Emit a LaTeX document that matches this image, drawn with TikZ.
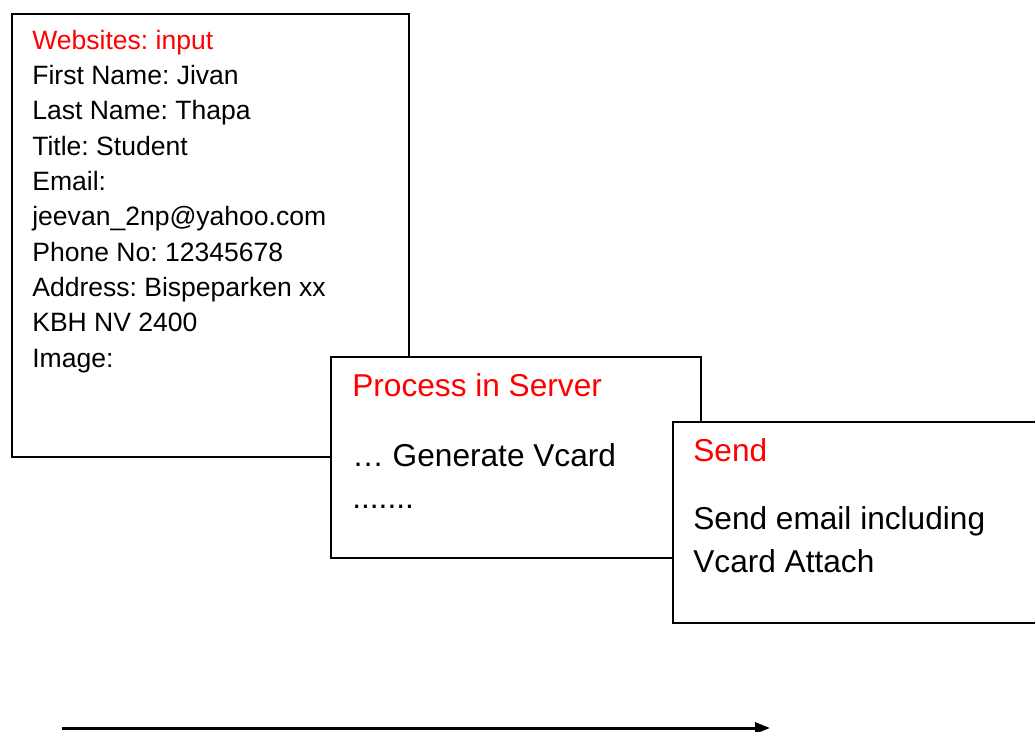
\documentclass[tikz,border=0pt]{standalone}
\usepackage{fontspec}
\setmainfont{Liberation Sans}
\frenchspacing
\usetikzlibrary{arrows.meta}
\begin{document}
\begin{tikzpicture}[x=0.02cm,y=-0.02cm]
    \tikzstyle{boite}=[draw,fill=white,line width=1.1pt,rectangle,inner sep=0pt,anchor=north west]
    \tikzstyle{titre}=[red,anchor=base west,inner sep=0pt]
    \tikzstyle{texte}=[anchor=base west,inner sep=0pt]
    \tikzstyle{fleche}=[line width=1.7pt,-{Triangle[length=0.3cm,width=0.22cm]}]
    \clip (0,0) rectangle (1035,731);
    % formulaire du site
    \node[boite,minimum width=7.94cm,minimum height=8.85cm] (site) at (11,13.3) {};
    \node[titre,font=\fontsize{15.1}{18}\selectfont] (site-titre) at (32,49.3) {Websites: input};
    \foreach \ligne [count=\i] in {First Name: Jivan,Last Name: Thapa,Title: Student,Email:,
        jeevan\_2np@yahoo.com,Phone No: 12345678,Address: Bispeparken xx,KBH NV 2400,Image:}
        \node[texte,font=\fontsize{15.1}{18}\selectfont] (site-\i) at (32,49.3+35.3*\i) {\ligne};
    % serveur
    \node[boite,minimum width=7.4cm,minimum height=4.03cm] (serveur) at (330,356) {};
    \node[titre,font=\fontsize{18}{22}\selectfont] (serveur-titre) at (352,396.7) {Process in Server};
    \node[texte,font=\fontsize{18}{22}\selectfont] (serveur-1) at (352,466) {\dots\ Generate Vcard};
    \node[texte,font=\fontsize{18}{22}\selectfont] (serveur-2) at (352,508) {.......};
    % envoi
    \node[boite,minimum width=7.5cm,minimum height=4.02cm] (envoi) at (671.7,420.7) {};
    \node[titre,font=\fontsize{18}{22}\selectfont] (envoi-titre) at (693,461) {Send};
    \node[texte,font=\fontsize{18}{22}\selectfont] (envoi-1) at (693,529.3) {Send email including};
    \node[texte,font=\fontsize{18}{22}\selectfont] (envoi-2) at (693,572.7) {Vcard Attach};
    % sens du traitement
    \coordinate (depart) at (62,728);
    \coordinate (arrivee) at (770,728);
    \draw[fleche] (depart) -- (arrivee);
\end{tikzpicture}
\end{document}
